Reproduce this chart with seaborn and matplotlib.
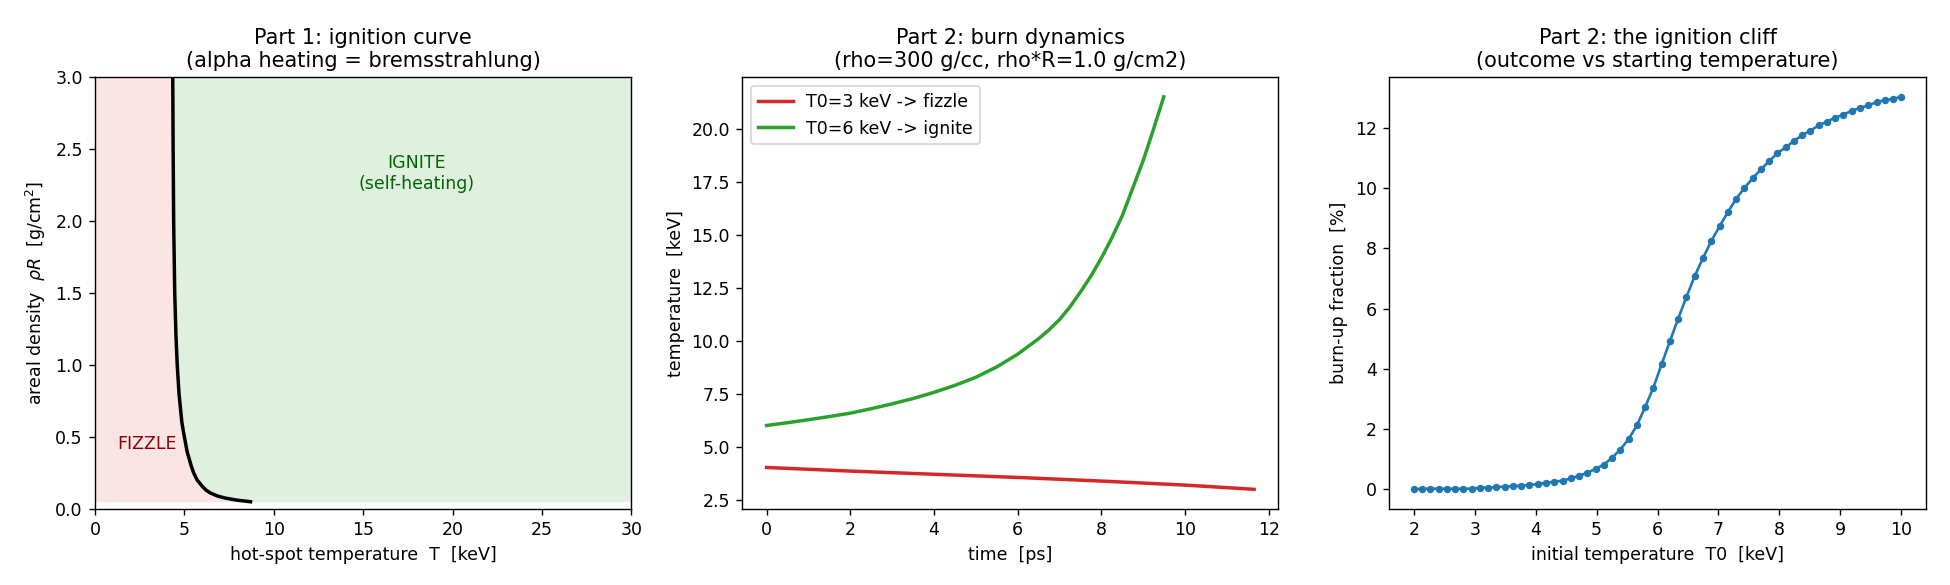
import numpy as np
import pandas as pd
import matplotlib
matplotlib.use("Agg")
import matplotlib.pyplot as plt
import seaborn as sns

# Part 1: ignition boundary (rhoR vs hot-spot temperature)
ign_rhoR = [3.0, 2.5, 2.0, 1.5, 1.2, 1.0, 0.8, 0.6, 0.5, 0.4, 0.3, 0.25,
            0.2, 0.16, 0.13, 0.11, 0.09, 0.075, 0.062, 0.05]
ign_T = [4.35, 4.37, 4.40, 4.46, 4.53, 4.60, 4.70, 4.86, 5.00, 5.15, 5.38, 5.52,
         5.72, 5.98, 6.22, 6.47, 6.85, 7.30, 7.90, 8.70]

# Part 2: temperature histories
fizzle_t = [0, 2, 4, 6, 8, 10, 11.65]
fizzle_T = [4.03, 3.86, 3.71, 3.56, 3.39, 3.20, 3.00]
ignite_t = [0, 0.5, 1, 1.5, 2, 2.5, 3, 3.5, 4, 4.5, 5, 5.5, 6, 6.5, 6.75, 7,
            7.25, 7.5, 7.75, 8, 8.25, 8.5, 8.75, 9, 9.25, 9.49]
ignite_T = [6.01, 6.14, 6.28, 6.43, 6.59, 6.80, 7.03, 7.28, 7.57, 7.90, 8.28,
            8.77, 9.37, 10.1, 10.52, 11.0, 11.6, 12.3, 13.05, 13.9, 14.85,
            15.9, 17.2, 18.5, 20.0, 21.5]

# Part 2: ignition cliff
T0_scan = np.linspace(2, 10, 60)
burnup = [0.00, 0.02, 0.02, 0.02, 0.02, 0.02, 0.02, 0.02, 0.05, 0.06,
          0.07, 0.09, 0.11, 0.12, 0.15, 0.17, 0.22, 0.25, 0.29, 0.36,
          0.45, 0.55, 0.68, 0.82, 1.05, 1.32, 1.67, 2.12, 2.73, 3.38,
          4.16, 4.92, 5.67, 6.39, 7.08, 7.68, 8.24, 8.73, 9.20, 9.64,
          10.00, 10.32, 10.62, 10.89, 11.16, 11.35, 11.57, 11.75, 11.91, 12.08,
          12.21, 12.34, 12.44, 12.57, 12.66, 12.75, 12.85, 12.92, 12.96, 13.03]

fig, axes = plt.subplots(1, 3, figsize=(15.6, 4.68), dpi=125)

# --- panel 1
ax = axes[0]
ax.fill_betweenx(ign_rhoR, 0, ign_T, color="tab:red", alpha=0.12, linewidth=0)
ax.fill_betweenx(ign_rhoR, ign_T, 30, color="tab:green", alpha=0.15, linewidth=0)
sns.lineplot(x=ign_T, y=ign_rhoR, sort=False, color="black", linewidth=2, ax=ax)
ax.text(2.9, 0.45, "FIZZLE", color="darkred", ha="center", va="center")
ax.text(18, 2.33, "IGNITE\n(self-heating)", color="darkgreen", ha="center", va="center")
ax.set_xlim(0, 30)
ax.set_ylim(0, 3)
ax.set_xlabel("hot-spot temperature  T  [keV]")
ax.set_ylabel(r"areal density  $\rho R$  [g/cm$^2$]")
ax.set_title("Part 1: ignition curve\n(alpha heating = bremsstrahlung)")

# --- panel 2
ax = axes[1]
sns.lineplot(x=fizzle_t, y=fizzle_T, color="tab:red", linewidth=2,
             label="T0=3 keV -> fizzle", ax=ax)
sns.lineplot(x=ignite_t, y=ignite_T, color="tab:green", linewidth=2,
             label="T0=6 keV -> ignite", ax=ax)
ax.legend(loc="upper left")
ax.set_xlabel("time  [ps]")
ax.set_ylabel("temperature  [keV]")
ax.set_title("Part 2: burn dynamics\n(rho=300 g/cc, rho*R=1.0 g/cm2)")

# --- panel 3
ax = axes[2]
cliff = pd.DataFrame({"T0": T0_scan, "burnup": burnup})
sns.lineplot(data=cliff, x="T0", y="burnup", color="tab:blue", marker="o",
             markersize=3.5, markeredgecolor="tab:blue", linewidth=1.5, ax=ax)
ax.set_xlabel("initial temperature  T0  [keV]")
ax.set_ylabel("burn-up fraction  [%]")
ax.set_title("Part 2: the ignition cliff\n(outcome vs starting temperature)")

plt.tight_layout(pad=1.4)
plt.subplots_adjust(bottom=0.13, top=0.868)
plt.savefig("out.png")
